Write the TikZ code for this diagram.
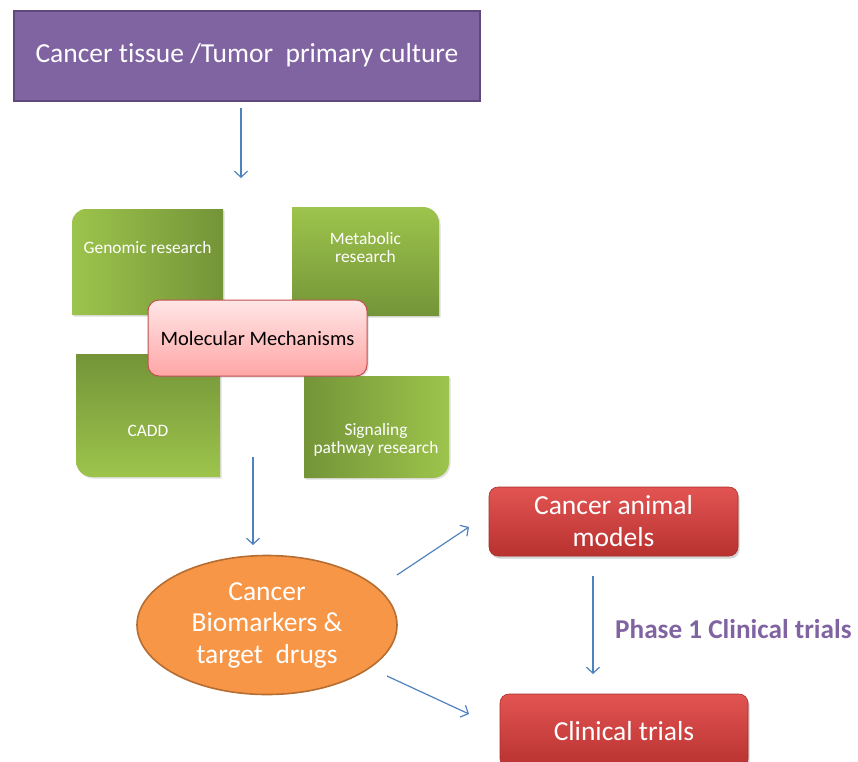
\documentclass[tikz,border=0pt]{standalone}
\usepackage{fontspec}
\setmainfont[Ligatures=NoCommon]{Carlito}
\usetikzlibrary{shapes.geometric,shadows,arrows.meta,calc}
\definecolor{purplefill}{RGB}{128,100,162}
\definecolor{purpleedge}{RGB}{94,73,122}
\definecolor{arrowblue}{RGB}{79,129,189}
\definecolor{gl}{RGB}{157,196,76}
\definecolor{gd}{RGB}{116,148,56}
\definecolor{pinktop}{RGB}{255,230,230}
\definecolor{pinkbot}{RGB}{255,166,166}
\definecolor{pinkedge}{RGB}{192,80,77}
\definecolor{orangefill}{RGB}{247,150,70}
\definecolor{orangeedge}{RGB}{182,109,49}
\definecolor{redtop}{RGB}{226,84,82}
\definecolor{redbot}{RGB}{184,50,48}
\definecolor{redge}{RGB}{170,45,43}
\begin{document}
\begin{tikzpicture}[x=1pt,y=-1pt,
  arr/.style={draw=arrowblue, line width=1.2pt, -{Straight Barb[length=6pt,width=13pt]}},
  greentext/.style={text=white, font=\fontsize{17.4}{18}\selectfont, align=center, inner sep=0pt},
  greenshadow/.style={drop shadow={opacity=0.25, shadow xshift=1.5pt, shadow yshift=-1.5pt}},
  redbox/.style={rectangle, rounded corners=9pt, top color=redtop, bottom color=redbot, draw=redge, line width=0.6pt,
     text=white, font=\fontsize{27.5}{32}\selectfont, align=center, minimum width=249pt,
     drop shadow={opacity=0.35, shadow xshift=1.5pt, shadow yshift=-2.5pt}}]
\useasboundingbox (0,0) rectangle (858,761);
\clip (0,0) rectangle (858,761);

% source box
\node[rectangle, fill=purplefill, draw=purpleedge, line width=2pt, minimum width=466pt, minimum height=90pt,
  text=white, font=\fontsize{27.5}{32}\selectfont] (src) at (247,55.5) {Cancer tissue /Tumor~ primary culture};

% green quadrants
\shade[greenshadow, left color=gl, right color=gd] (72,315) -- (72,223) .. controls (72,215.3) and (78.3,209) .. (86,209) -- (223,209) -- (223,315) -- cycle;
\shade[greenshadow, top color=gl, bottom color=gd] (292,207) -- (423,207) .. controls (431.8,207) and (439,214.2) .. (439,223) -- (439,316) -- (292,316) -- cycle;
\shade[greenshadow, top color=gd, bottom color=gl] (76,354) -- (220,354) -- (220,477) -- (92,477) .. controls (83.2,477) and (76,469.8) .. (76,461) -- cycle;
\shade[greenshadow, left color=gd, right color=gl] (304,376) -- (449,376) -- (449,462) .. controls (449,470.8) and (441.8,478) .. (433,478) -- (304,478) -- cycle;

\node[greentext] (gen) at (147.5,248) {Genomic research};
\node[greentext] (met) at (365.5,248) {Metabolic\\research};
\node[greentext] (cadd) at (148,431) {CADD};
\node[greentext] (sig) at (376,440) {Signaling\\pathway research};

% molecular mechanisms
\node[rectangle, rounded corners=11pt, top color=pinktop, bottom color=pinkbot, draw=pinkedge, line width=1pt,
  minimum width=219pt, minimum height=76pt, font=\fontsize{20.5}{24}\selectfont, text=black,
  drop shadow={opacity=0.25, shadow xshift=1.5pt, shadow yshift=-1.5pt}] (mol) at (257.5,338) {Molecular Mechanisms};

% biomarkers ellipse
\node[ellipse, fill=orangefill, draw=orangeedge, line width=1.6pt, minimum width=260pt, minimum height=139pt,
  inner sep=0pt, text=white, font=\fontsize{27.5}{31.5}\selectfont, align=center] (bio) at (267,625)
  {Cancer\\Biomarkers \&\\target~ drugs};

% red boxes
\node[redbox, minimum height=69pt] (animal) at (613.5,521.5) {Cancer animal\\models};
\node[redbox, minimum width=248pt, minimum height=74pt] (clin) at (624,731) {Clinical trials};

% label
\node[anchor=west, text=purplefill, font=\bfseries\fontsize{27.2}{30}\selectfont, inner sep=0pt] (phase) at (615,629) {Phase 1 Clinical trials};

% connector end points
\coordinate (a1s) at (241,108);
\coordinate (a1e) at (241,178);
\coordinate (a2s) at (253,457);
\coordinate (a2e) at (253,545);
\coordinate (a3s) at (397,575);
\coordinate (a3e) at (469,527);
\coordinate (a4s) at (387,676);
\coordinate (a4e) at (469,714);
\coordinate (a5s) at (593,576);
\coordinate (a5e) at (593,674);

\draw[arr] (a1s) -- (a1e);
\draw[arr] (a2s) -- (a2e);
\draw[arr] (a3s) -- (a3e);
\draw[arr] (a4s) -- (a4e);
\draw[arr] (a5s) -- (a5e);
\end{tikzpicture}
\end{document}
